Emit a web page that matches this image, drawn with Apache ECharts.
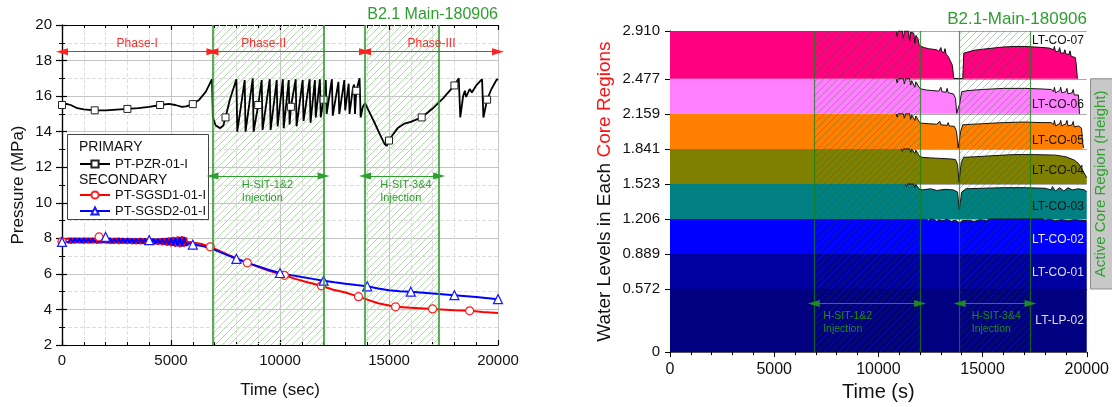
<!DOCTYPE html>
<html>
<head>
<meta charset="utf-8">
<title>B2.1 Main-180906</title>
<script src="https://cdn.jsdelivr.net/npm/echarts@6.0.0/dist/echarts.min.js"></script>
<style>
  html, body { margin: 0; padding: 0; background: #fff; }
  #chart { width: 1112px; height: 407px; }
</style>
</head>
<body>
<div id="chart"></div>
<script>
// ---------------- data ----------------
const injectionWindows = [[6900, 12000], [13900, 17300]];
const phaseEdges = [0, 6900, 13900, 20000];
const phaseNames = ['Phase-I', 'Phase-II', 'Phase-III'];
const injectionNames = ['H-SIT-1&2', 'H-SIT-3&4'];

// PT-PZR-01-I, [time (s), pressure (MPa)]
const pzrPressure = [
  [0, 15.5], [200, 15.56], [400, 15.5], [700, 15.32], [1000, 15.25], [1500, 15.2], [2000, 15.2],
  [2500, 15.24], [3000, 15.28], [3500, 15.33], [4000, 15.4], [4500, 15.5], [4900, 15.56], [5200, 15.5],
  [5500, 15.4], [5700, 15.42], [6000, 15.55], [6300, 15.8], [6600, 16.25], [6880, 16.95],
  [6920, 14.8], [7050, 14.35], [7250, 14.2], [7400, 14.35], [7500, 14.8], [7700, 15.8], [8000, 16.95],
  [8040, 14.0], [8380, 16.9], [8420, 14.0], [8750, 17.0], [8790, 14.0], [9000, 15.5], [9160, 16.9],
  [9200, 14.1], [9530, 16.95], [9570, 14.1], [9850, 16.9], [9890, 14.3], [10130, 16.95], [10170, 14.2],
  [10400, 16.9], [10440, 14.4], [10500, 15.4], [10720, 16.95], [10760, 14.3], [11040, 16.9], [11080, 14.6],
  [11360, 16.95], [11400, 14.5], [11600, 16.9], [11640, 14.8], [11830, 16.95], [11870, 14.8], [12000, 15.8],
  [12100, 16.9], [12140, 15.0], [12380, 16.95], [12420, 14.9], [12680, 16.8], [12720, 15.0], [12950, 16.9],
  [12990, 15.2], [13150, 16.7], [13190, 15.0], [13350, 16.5], [13400, 16.65], [13440, 15.0], [13500, 16.3],
  [13650, 17.0], [13700, 14.8], [13800, 15.4], [13900, 15.6], [14100, 15.1], [14300, 14.6], [14600, 13.8],
  [14800, 13.3], [14900, 13.2], [15000, 13.5], [15100, 13.7], [15400, 14.2], [15700, 14.45], [16000, 14.55],
  [16500, 14.8], [17000, 15.3], [17500, 15.9], [18000, 16.6], [18200, 17.0], [18270, 14.8], [18400, 16.0],
  [18480, 16.3], [18540, 15.95], [18700, 16.4], [18800, 16.2], [19000, 16.6], [19270, 16.95], [19330, 14.8],
  [19500, 15.8], [19700, 16.4], [19950, 16.95], [20000, 16.9]
];
const pzrMarkTimes = [0, 1500, 3000, 4500, 6000, 7500, 9000, 10500, 12000, 13500, 15000, 16500, 18000, 19500];

// PT-SGSD1-01-I: start, ripple sampled every 100 s from 300 s, then tail
const sg1Start = [[0, 7.82], [150, 7.9]];
const sg1Ripple = [
  8.02, 7.70, 8.03, 7.72, 8.02, 7.71, 8.03, 7.70, 8.02, 7.72,
  8.03, 7.71, 8.02, 7.70, 8.08, 7.71, 8.02, 7.72, 8.02, 7.70,
  8.01, 7.70, 8.02, 7.69, 8.01, 7.70, 8.00, 7.69, 8.01, 7.68,
  8.00, 7.68, 8.00, 7.67, 8.00, 7.66, 7.99, 7.66, 8.00, 7.65,
  7.99, 7.64, 8.00, 7.62, 8.02, 7.58, 8.05, 7.55, 8.08, 7.52,
  8.10, 7.50, 8.12, 7.52, 8.05
];
const sg1Tail = [
  [5750, 7.58], [5800, 7.8], [6000, 7.76], [6400, 7.68], [6800, 7.52], [7200, 7.3], [7600, 7.08],
  [8000, 6.88], [8500, 6.62], [9000, 6.4], [9500, 6.18], [10200, 5.92], [10700, 5.72], [11300, 5.52],
  [11900, 5.33], [12400, 5.12], [13000, 4.95], [13600, 4.72], [14000, 4.55], [14500, 4.35], [15000, 4.22],
  [15300, 4.15], [16000, 4.1], [17000, 4.03], [18000, 3.96], [18700, 3.92], [19300, 3.86], [20000, 3.8]
];
const sg1MarkTimes = [0, 1700, 6800, 8500, 10200, 11900, 13600, 15300, 17000, 18700];

// PT-SGSD2-01-I
const sg2Start = [[0, 7.8], [150, 7.85]];
const sg2Ripple = [
  7.74, 8.02, 7.73, 8.03, 7.74, 8.02, 7.73, 8.03, 7.74, 8.02,
  7.73, 8.03, 7.74, 8.02, 7.73, 8.02, 7.74, 8.08, 7.73, 8.02,
  7.72, 8.01, 7.73, 8.02, 7.72, 8.01, 7.71, 8.01, 7.72, 8.00,
  7.71, 8.00, 7.70, 8.01, 7.70, 8.00, 7.69, 7.90, 7.70, 7.99,
  7.68, 7.99, 7.67, 8.00, 7.65, 8.01, 7.62, 8.03, 7.58, 8.05,
  7.55, 8.07, 7.54, 8.08, 7.58
];
const sg2Tail = [
  [5750, 7.62], [5800, 7.72], [6000, 7.65], [6500, 7.55], [7000, 7.35], [7500, 7.1], [8000, 6.85],
  [8500, 6.62], [9000, 6.42], [9500, 6.22], [10000, 6.05], [10500, 5.93], [11000, 5.82], [11500, 5.72],
  [12000, 5.62], [12500, 5.53], [13000, 5.45], [13500, 5.37], [14000, 5.3], [14500, 5.18], [15000, 5.08],
  [15500, 5.03], [16000, 5.0], [17000, 4.9], [18000, 4.8], [19000, 4.7], [20000, 4.58]
];
const sg2MarkTimes = [0, 2000, 4000, 6000, 8000, 10000, 12000, 14000, 16000, 18000, 20000];
const rippleStart = 300, rippleStep = 100;

// right plot: region boundaries (tick labels) and water level in each region
const coreLevels = [0, 0.572, 0.889, 1.206, 1.523, 1.841, 2.159, 2.477, 2.910];
const regionNames = ['LT-LP-02', 'LT-CO-01', 'LT-CO-02', 'LT-CO-03', 'LT-CO-04', 'LT-CO-05', 'LT-CO-06', 'LT-CO-07'];
const lp02 = [[0, 0.572], [20000, 0.572]];
const co01 = [[0, 0.889], [20000, 0.889]];
const co02 = [
  [0, 1.206], [12300, 1.206], [12400, 1.19], [12500, 1.206], [12700, 1.2], [12800, 1.185], [12900, 1.2],
  [13100, 1.19], [13300, 1.205], [13500, 1.185], [13700, 1.195], [13900, 1.17], [14000, 1.19], [14300, 1.195],
  [14600, 1.185], [14900, 1.2], [15200, 1.19], [15300, 1.206], [17900, 1.206], [18000, 1.195], [18200, 1.205],
  [18500, 1.19], [18800, 1.2], [19100, 1.19], [19400, 1.2], [19700, 1.195], [20000, 1.19]
];
const co03 = [
  [0, 1.523], [11300, 1.523], [11350, 1.5], [11400, 1.523], [11700, 1.523], [11750, 1.49], [11800, 1.52],
  [11950, 1.48], [12100, 1.47], [12500, 1.48], [12800, 1.465], [13200, 1.475], [13600, 1.47], [13800, 1.45],
  [13880, 1.29], [13930, 1.29], [14000, 1.45], [14200, 1.48], [15000, 1.485], [16000, 1.49], [17000, 1.49],
  [18000, 1.485], [18300, 1.47], [18350, 1.5], [18500, 1.46], [18700, 1.49], [18900, 1.46], [19100, 1.49],
  [19300, 1.47], [19600, 1.48], [19900, 1.47], [20000, 1.45]
];
const co04 = [
  [0, 1.841], [11100, 1.841], [11150, 1.82], [11200, 1.841], [11500, 1.841], [11550, 1.81], [11600, 1.84],
  [11750, 1.8], [11800, 1.83], [11950, 1.78], [12100, 1.765], [12500, 1.76], [13000, 1.755], [13500, 1.75],
  [13700, 1.745], [13800, 1.7], [13870, 1.54], [13920, 1.54], [13980, 1.72], [14100, 1.765], [14600, 1.77],
  [15500, 1.78], [16500, 1.79], [17500, 1.79], [18500, 1.785], [19000, 1.77], [19400, 1.74], [19600, 1.71],
  [19800, 1.65], [20000, 1.58]
];
const co05 = [
  [0, 2.159], [10850, 2.159], [10900, 2.13], [10950, 2.159], [11200, 2.159], [11250, 2.12], [11300, 2.159],
  [11500, 2.159], [11550, 2.11], [11600, 2.15], [11750, 2.1], [11800, 2.14], [11950, 2.09], [12050, 2.075],
  [12400, 2.07], [12800, 2.065], [12950, 2.09], [13000, 2.06], [13300, 2.055], [13350, 2.08], [13400, 2.05],
  [13650, 2.045], [13750, 2.0], [13830, 1.85], [13880, 1.845], [13950, 2.0], [14050, 2.06], [14500, 2.065],
  [15000, 2.07], [16000, 2.08], [17000, 2.085], [17800, 2.08], [18300, 2.08], [18400, 2.06], [18450, 2.1],
  [18500, 2.05], [18700, 2.07], [18750, 2.1], [18800, 2.05], [19000, 2.07], [19050, 2.1], [19100, 2.05],
  [19300, 2.06], [19350, 2.09], [19400, 2.04], [19600, 2.05], [19750, 2.03], [19800, 1.9], [19850, 1.85]
];
const co06 = [
  [0, 2.477], [10850, 2.477], [10900, 2.44], [10950, 2.477], [11200, 2.477], [11250, 2.43], [11300, 2.477],
  [11500, 2.477], [11550, 2.42], [11600, 2.46], [11750, 2.4], [11800, 2.45], [11950, 2.4], [12050, 2.385],
  [12300, 2.375], [12600, 2.37], [12900, 2.365], [13000, 2.4], [13050, 2.36], [13250, 2.355], [13300, 2.39],
  [13350, 2.35], [13600, 2.34], [13700, 2.3], [13760, 2.165], [13800, 2.16], [13900, 2.25], [14000, 2.36],
  [14300, 2.37], [15000, 2.38], [16000, 2.39], [17000, 2.39], [17800, 2.385], [18300, 2.38], [18400, 2.36],
  [18450, 2.4], [18500, 2.35], [18700, 2.37], [18750, 2.4], [18800, 2.35], [19000, 2.36], [19050, 2.39],
  [19100, 2.34], [19300, 2.35], [19350, 2.38], [19400, 2.33], [19600, 2.33], [19650, 2.159]
];
const co07 = [
  [0, 2.91], [10850, 2.91], [10900, 2.86], [10950, 2.91], [11150, 2.91], [11200, 2.84], [11250, 2.91],
  [11450, 2.91], [11500, 2.82], [11550, 2.9], [11700, 2.89], [11750, 2.8], [11800, 2.87], [11900, 2.84],
  [11950, 2.79], [12050, 2.77], [12200, 2.76], [12400, 2.75], [12600, 2.745], [12800, 2.74], [12900, 2.725],
  [13000, 2.76], [13050, 2.72], [13150, 2.715], [13200, 2.75], [13250, 2.7], [13350, 2.68], [13450, 2.64],
  [13550, 2.6], [13620, 2.48], [14050, 2.48], [14100, 2.71], [14300, 2.72], [14600, 2.735], [15000, 2.745],
  [15500, 2.755], [16000, 2.765], [16500, 2.77], [17000, 2.77], [17500, 2.765], [17900, 2.76], [18200, 2.755],
  [18400, 2.74], [18450, 2.77], [18500, 2.72], [18650, 2.73], [18700, 2.76], [18750, 2.71], [18900, 2.71],
  [18950, 2.74], [19000, 2.7], [19150, 2.7], [19200, 2.73], [19250, 2.68], [19450, 2.67], [19500, 2.6],
  [19550, 2.477]
];
const regionLevels = [lp02, co01, co02, co03, co04, co05, co06, co07];

// ---------------- styling ----------------
const FONT = 'Arial, "Liberation Sans", sans-serif';
const regionColors = ['#000080', '#0000a0', '#0000ff', '#008080', '#808000', '#ff8000', '#ff80ff', '#ff0080'];
const regionTextColors = ['#dcdcf0', '#dcdcf0', '#e6e6ff', '#111', '#111', '#111', '#111', '#111'];
const GREEN = '#2e9e2e';

function makeHatch(color, size) {
  const c = document.createElement('canvas');
  c.width = size; c.height = size;
  const g = c.getContext('2d');
  g.strokeStyle = color; g.lineWidth = 1;
  g.beginPath();
  g.moveTo(0, size); g.lineTo(size, 0);
  g.moveTo(-1, 1); g.lineTo(1, -1);
  g.moveTo(size - 1, size + 1); g.lineTo(size + 1, size - 1);
  g.stroke();
  return c;
}

function ripple(start, step, values) {
  return values.map((v, i) => [start + i * step, v]);
}
function withMarks(points, marks) {
  const s = new Set(marks);
  return points.map(p => (s.has(p[0]) ? { value: p } : { value: p, symbol: 'none' }));
}

function hatchSeries(xi, yi, pattern, z) {
  return {
    type: 'custom', xAxisIndex: xi, yAxisIndex: yi, z: z, silent: true,
    data: injectionWindows,
    encode: { x: [0, 1] },
    renderItem(params, api) {
      const cs = params.coordSys;
      const x0 = api.coord([api.value(0), 1])[0];
      const x1 = api.coord([api.value(1), 1])[0];
      return {
        type: 'rect',
        shape: { x: x0, y: cs.y, width: x1 - x0, height: cs.height },
        style: { fill: { image: pattern, repeat: 'repeat' } }
      };
    }
  };
}

function arrowLine(y, t0, t1, color, width) {
  return [
    { coord: [t0, y], symbol: 'triangle', symbolSize: [7, 12], lineStyle: { color: color, width: width, type: 'solid' } },
    { coord: [t1, y], symbol: 'triangle', symbolSize: [7, 12] }
  ];
}

const plainNumber = v => String(v);

// ---------------- series ----------------
const series = [];
series.push(hatchSeries(0, 0, makeHatch('#b2dcab', 7), 1));

series.push({
  name: 'PT-PZR-01-I', type: 'line', xAxisIndex: 0, yAxisIndex: 0, z: 2,
  data: withMarks(pzrPressure, pzrMarkTimes),
  symbol: 'rect', symbolSize: 7, showAllSymbol: true,
  itemStyle: { color: '#fff', borderColor: '#222', borderWidth: 1 },
  lineStyle: { color: '#000', width: 1.8 },
  markLine: {
    silent: true, symbol: 'none', label: { show: false },
    data: [
      { xAxis: 6900, lineStyle: { color: GREEN, width: 1.6, type: 'solid' } },
      { xAxis: 12000, lineStyle: { color: GREEN, width: 1.6, type: 'solid' } },
      { xAxis: 13900, lineStyle: { color: GREEN, width: 1.6, type: 'solid' } },
      { xAxis: 17300, lineStyle: { color: GREEN, width: 1.6, type: 'solid' } },
      arrowLine(18.5, phaseEdges[0], phaseEdges[1], '#ff2020', 1.2),
      arrowLine(18.5, phaseEdges[1], phaseEdges[2], '#ff2020', 1.2),
      arrowLine(18.5, phaseEdges[2], phaseEdges[3], '#ff2020', 1.2),
      arrowLine(11.5, injectionWindows[0][0], injectionWindows[0][1], GREEN, 1),
      arrowLine(11.5, injectionWindows[1][0], injectionWindows[1][1], GREEN, 1)
    ]
  }
});

series.push({
  name: 'PT-SGSD1-01-I', type: 'line', xAxisIndex: 0, yAxisIndex: 0, z: 2,
  data: withMarks(sg1Start.concat(ripple(rippleStart, rippleStep, sg1Ripple), sg1Tail), sg1MarkTimes),
  symbol: 'circle', symbolSize: 8, showAllSymbol: true,
  itemStyle: { color: '#fff', borderColor: '#ff2020', borderWidth: 1.2 },
  lineStyle: { color: '#ff0000', width: 2 }
});

series.push({
  name: 'PT-SGSD2-01-I', type: 'line', xAxisIndex: 0, yAxisIndex: 0, z: 2,
  data: withMarks(sg2Start.concat(ripple(rippleStart, rippleStep, sg2Ripple), sg2Tail), sg2MarkTimes),
  symbol: 'triangle', symbolSize: 9, showAllSymbol: true,
  itemStyle: { color: '#fff', borderColor: '#1a1aff', borderWidth: 1.2 },
  lineStyle: { color: '#0000ff', width: 2 }
});

regionNames.forEach((name, i) => {
  const base = coreLevels[i], top = coreLevels[i + 1];
  const lv = regionLevels[i];
  const s = {
    name: name, type: 'line', xAxisIndex: 2, yAxisIndex: 2, z: 2, silent: true,
    data: lv, symbol: 'none',
    lineStyle: { width: 0, opacity: 0 },
    areaStyle: { color: regionColors[i], opacity: 1, origin: base }
  };
  if (i === 0) {
    s.markLine = {
      silent: true, symbol: 'none', label: { show: false },
      data: [
        { yAxis: coreLevels[1], lineStyle: { color: '#000', width: 1, type: 'solid' } },
        { xAxis: 6900, lineStyle: { color: 'rgba(20,130,20,0.75)', width: 1.2, type: 'solid' } },
        { xAxis: 12000, lineStyle: { color: 'rgba(20,130,20,0.75)', width: 1.2, type: 'solid' } },
        { xAxis: 13900, lineStyle: { color: 'rgba(20,130,20,0.75)', width: 1.2, type: 'solid' } },
        { xAxis: 17300, lineStyle: { color: 'rgba(20,130,20,0.75)', width: 1.2, type: 'solid' } },
        arrowLine(0.44, injectionWindows[0][0], injectionWindows[0][1], '#1f8a1f', 1),
        arrowLine(0.44, injectionWindows[1][0], injectionWindows[1][1], '#1f8a1f', 1)
      ]
    };
  }
  series.push(s);
  const k = lv.findIndex(p => p[1] < top - 1e-6);
  if (k > 0) {
    series.push({
      type: 'line', xAxisIndex: 2, yAxisIndex: 2, z: 2, silent: true,
      data: lv.slice(k - 1), symbol: 'none',
      lineStyle: { color: '#111', width: 1 }
    });
  }
});
series.push(hatchSeries(2, 2, makeHatch('rgba(20,90,20,0.3)', 7), 3));

// ---------------- axes ----------------
const black = { color: '#000', width: 1.2 };
const option = {
  animation: false,
  textStyle: { fontFamily: FONT },
  title: [
    { text: 'B2.1 Main-180906', right: 1112 - 498, top: 7, padding: 0,
      textStyle: { color: GREEN, fontSize: 16, fontWeight: 'normal', fontFamily: FONT } },
    { text: 'B2.1-Main-180906', right: 1112 - 1087, top: 11, padding: 0,
      textStyle: { color: GREEN, fontSize: 17, fontWeight: 'normal', fontFamily: FONT } }
  ],
  legend: [
    { data: ['PT-PZR-01-I'], orient: 'vertical', left: 79, top: 157.5, padding: 0,
      itemWidth: 30, itemHeight: 9, selectedMode: false,
      textStyle: { fontSize: 13, color: '#111', fontFamily: FONT } },
    { data: ['PT-SGSD1-01-I', 'PT-SGSD2-01-I'], orient: 'vertical', left: 79, top: 188.5, padding: 0,
      itemWidth: 30, itemHeight: 9, itemGap: 3, selectedMode: false,
      textStyle: { fontSize: 13, color: '#111', fontFamily: FONT } }
  ],
  grid: [
    { left: 62, top: 25, width: 436, height: 320 },
    { left: 670, top: 31, width: 417, height: 326 }
  ],
  xAxis: [
    { gridIndex: 0, type: 'value', min: 0, max: 20000, interval: 5000, position: 'bottom',
      axisLine: { lineStyle: black },
      axisTick: { inside: true, length: 5, lineStyle: black },
      minorTick: { show: true, splitNumber: 5, length: 3, lineStyle: { color: '#000' } },
      axisLabel: { fontSize: 15, color: '#111', margin: 8, formatter: plainNumber },
      splitLine: { show: true, lineStyle: { color: '#c4c4c4', width: 1 } },
      minorSplitLine: { show: true, lineStyle: { color: '#dedede', type: 'dashed' } },
      name: 'Time (sec)', nameLocation: 'middle', nameGap: 37,
      nameTextStyle: { fontSize: 17, color: '#111' } },
    { gridIndex: 0, type: 'value', min: 0, max: 20000, interval: 5000, position: 'top',
      axisLine: { lineStyle: black },
      axisTick: { inside: true, length: 5, lineStyle: black },
      minorTick: { show: true, splitNumber: 5, length: 3, lineStyle: { color: '#000' } },
      axisLabel: { show: false }, splitLine: { show: false } },
    { gridIndex: 1, type: 'value', min: 0, max: 20000, interval: 5000, position: 'bottom',
      axisLine: { lineStyle: { color: '#000', width: 1 } },
      axisTick: { length: 5, lineStyle: { color: '#000' } },
      minorTick: { show: true, splitNumber: 5, length: 3, lineStyle: { color: '#000' } },
      axisLabel: { fontSize: 16, color: '#111', margin: 9, formatter: plainNumber },
      splitLine: { show: false },
      name: 'Time (s)', nameLocation: 'middle', nameGap: 29,
      nameTextStyle: { fontSize: 20, color: '#111' } },
    { gridIndex: 1, type: 'value', min: 0, max: 20000, interval: 5000, position: 'top',
      axisLine: { lineStyle: { color: '#555', width: 1 } },
      axisTick: { show: false }, axisLabel: { show: false }, splitLine: { show: false } }
  ],
  yAxis: [
    { gridIndex: 0, type: 'value', min: 2, max: 20, interval: 2, position: 'left',
      axisLine: { show: true, lineStyle: black },
      axisTick: { show: true, length: 6, lineStyle: black },
      minorTick: { show: true, splitNumber: 2, length: 3, lineStyle: { color: '#000' } },
      axisLabel: { fontSize: 15, color: '#111', margin: 10 },
      splitLine: { show: true, lineStyle: { color: '#c4c4c4', width: 1 } },
      minorSplitLine: { show: true, lineStyle: { color: '#dedede', type: 'dashed' } },
      name: 'Pressure (MPa)', nameLocation: 'middle', nameGap: 35,
      nameTextStyle: { fontSize: 17, color: '#111' } },
    { gridIndex: 0, type: 'value', min: 2, max: 20, interval: 2, position: 'right',
      axisLine: { show: true, lineStyle: black },
      axisTick: { show: true, length: 5, lineStyle: black },
      minorTick: { show: true, splitNumber: 2, length: 3, lineStyle: { color: '#000' } },
      axisLabel: { show: false }, splitLine: { show: false } },
    { gridIndex: 1, type: 'value', min: 0, max: 2.91, position: 'left',
      axisLine: { show: true, lineStyle: { color: '#000', width: 1 } },
      axisTick: { show: true, length: 5, customValues: coreLevels, lineStyle: { color: '#000' } },
      axisLabel: { fontSize: 15, color: '#111', margin: 10, customValues: coreLevels,
        formatter: v => (v === 0 ? '0' : v.toFixed(3)) },
      splitLine: { show: true, lineStyle: { color: '#a8a8a8', width: 1 } },
      name: '{a|Water Levels in Each }{b|Core Regions}', nameLocation: 'middle', nameGap: 56,
      nameTextStyle: { fontSize: 19, rich: {
        a: { fontSize: 19, color: '#111', fontFamily: FONT },
        b: { fontSize: 19, color: '#ff1010', fontFamily: FONT } } } },
    { gridIndex: 1, type: 'value', min: 0, max: 2.91, position: 'right',
      axisLine: { show: true, lineStyle: { color: '#888', width: 1 } },
      axisTick: { show: false }, axisLabel: { show: false }, splitLine: { show: false } }
  ],
  series: series
};

const chart = echarts.init(document.getElementById('chart'));
chart.setOption(option);

// ---------------- annotations placed through the axes ----------------
function buildGraphics() {
  const L = (t, p) => chart.convertToPixel({ xAxisIndex: 0, yAxisIndex: 0 }, [t, p]);
  const R = (t, v) => chart.convertToPixel({ xAxisIndex: 2, yAxisIndex: 2 }, [t, v]);
  const g = [];
  const text = (pt, str, style) => g.push({
    type: 'text', x: pt[0], y: pt[1], z: 10, silent: true,
    style: Object.assign({ text: str, fontFamily: FONT }, style)
  });

  const phaseLabelAt = [3450, 9250, 16950];
  phaseNames.forEach((n, i) => text(L(phaseLabelAt[i], 18.93), n,
    { fill: '#ff2a2a', fontSize: 12, align: 'center', verticalAlign: 'middle' }));

  const injLabelAt = [8250, 14600];
  injectionNames.forEach((n, i) => text(L(injLabelAt[i], 11.34), n + '\nInjection',
    { fill: GREEN, fontSize: 11, lineHeight: 13, align: 'left', verticalAlign: 'top' }));

  const injLabelR = [7350, 14480];
  injectionNames.forEach((n, i) => text(R(injLabelR[i], 0.385), n + '\nInjection',
    { fill: '#1f8a1f', fontSize: 10.5, lineHeight: 13, align: 'left', verticalAlign: 'top' }));

  const regionLabelV = [0.286, 0.723, 1.018, 1.321, 1.643, 1.92, 2.241, 2.82];
  regionNames.forEach((n, i) => text(R(19860, regionLabelV[i]), n,
    { fill: regionTextColors[i], fontSize: 12, align: 'right', verticalAlign: 'middle' }));

  // legend frame
  g.push({ type: 'rect', z: 3, silent: true, shape: { x: 67.5, y: 134.5, width: 141, height: 85 },
    style: { fill: '#fff', stroke: '#444', lineWidth: 1 } });
  text([79, 147], 'PRIMARY', { fill: '#111', fontSize: 14, align: 'left', verticalAlign: 'middle' });
  text([79, 180], 'SECONDARY', { fill: '#111', fontSize: 14, align: 'left', verticalAlign: 'middle' });

  // active core region tag
  const topPt = R(20000, coreLevels[7]);
  const botPt = R(20000, coreLevels[1]);
  g.push({ type: 'rect', z: 3, silent: true,
    shape: { x: 1090.5, y: topPt[1], width: 30, height: botPt[1] - topPt[1] },
    style: { fill: '#c8c8c8', stroke: '#8c8c8c', lineWidth: 1 } });
  g.push({ type: 'text', z: 10, silent: true, x: 1101, y: (topPt[1] + botPt[1]) / 2, rotation: Math.PI / 2,
    style: { text: 'Active Core Region (Height)', fontFamily: FONT, fontSize: 15, fill: '#2ea02e',
      align: 'center', verticalAlign: 'middle' } });
  return g;
}
chart.setOption({ graphic: buildGraphics() });
</script>
</body>
</html>
